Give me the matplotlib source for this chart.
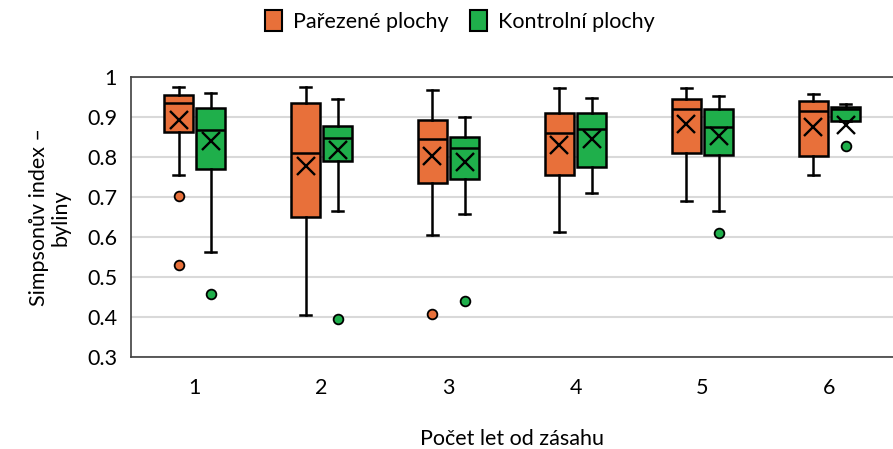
import numpy as np
import matplotlib.pyplot as plt

plt.rcParams['font.family'] = ['Lato', 'DejaVu Sans']

# roky od zasahu
years = ['1', '2', '3', '4', '5', '6']

# parezene plochy (orange)
par_whislo = [0.756, 0.407, 0.605, 0.614, 0.692, 0.755]
par_q1     = [0.864, 0.650, 0.737, 0.757, 0.811, 0.804]
par_med    = [0.937, 0.810, 0.846, 0.862, 0.920, 0.916]
par_q3     = [0.956, 0.937, 0.894, 0.911, 0.945, 0.940]
par_whishi = [0.976, 0.976, 0.969, 0.973, 0.974, 0.958]
par_mean   = [0.893, 0.778, 0.803, 0.830, 0.883, 0.876]
par_fliers = [[0.703, 0.532], [], [0.408], [], [], []]

# kontrolni plochy (green)
kon_whislo = [0.563, 0.667, 0.659, 0.710, 0.666, 0.890]
kon_q1     = [0.771, 0.792, 0.746, 0.776, 0.807, 0.890]
kon_med    = [0.868, 0.849, 0.823, 0.871, 0.875, 0.920]
kon_q3     = [0.924, 0.879, 0.851, 0.911, 0.920, 0.926]
kon_whishi = [0.962, 0.947, 0.901, 0.949, 0.953, 0.934]
kon_mean   = [0.841, 0.818, 0.789, 0.845, 0.853, 0.882]
kon_fliers = [[0.459], [0.395], [0.440], [], [0.612], [0.828]]

c_par = '#E8703A'
c_kon = '#1FAF4B'


def make_stats(lo, q1, med, q3, hi, mean, fl):
    out = []
    for i in range(len(lo)):
        out.append(dict(whislo=lo[i], q1=q1[i], med=med[i], q3=q3[i],
                        whishi=hi[i], mean=mean[i], fliers=fl[i]))
    return out


fig = plt.figure(figsize=(8.93, 4.49), dpi=100)
ax = fig.add_axes([0.1467, 0.2042, 0.8533, 0.6236])

x = np.arange(1, len(years) + 1)
off = 0.126
w = 0.236
lw = 1.8

for stats, pos, col in [(make_stats(par_whislo, par_q1, par_med, par_q3, par_whishi, par_mean, par_fliers), x - off, c_par),
                        (make_stats(kon_whislo, kon_q1, kon_med, kon_q3, kon_whishi, kon_mean, kon_fliers), x + off, c_kon)]:
    ax.bxp(stats, positions=pos, widths=w, patch_artist=True, showmeans=True,
           boxprops=dict(facecolor=col, edgecolor='black', linewidth=lw),
           medianprops=dict(color='black', linewidth=lw),
           whiskerprops=dict(color='black', linewidth=lw),
           capprops=dict(color='black', linewidth=lw),
           capwidths=0.09,
           meanprops=dict(marker='x', markeredgecolor='black', markersize=13, markeredgewidth=1.7),
           flierprops=dict(marker='o', markerfacecolor=col, markeredgecolor='black',
                           markersize=7, markeredgewidth=1.3),
           zorder=3)

ax.set_xlim(0.5, 6.5)
ax.set_ylim(0.3, 1.0)
ax.set_yticks(np.arange(0.3, 1.01, 0.1))
ax.set_yticklabels(['0.3', '0.4', '0.5', '0.6', '0.7', '0.8', '0.9', '1'])
ax.set_xticks(x)
ax.set_xticklabels(years)
ax.tick_params(length=0, labelsize=15.5, pad=10)
ax.tick_params(axis='x', pad=15)
ax.yaxis.grid(True, color='#D9D9D9', linewidth=1.5, zorder=0)
ax.set_axisbelow(True)
for s in ['left', 'top', 'bottom']:
    ax.spines[s].set_color('#404040')
    ax.spines[s].set_linewidth(1.2)
ax.spines['right'].set_visible(False)

ax.set_xlabel('Počet let od zásahu', fontsize=15.5, labelpad=22)
ax.set_ylabel('Simpsonův index –\nbyliny', fontsize=15.5, labelpad=12, linespacing=1.1)

from matplotlib.patches import Patch
handles = [Patch(facecolor=c_par, edgecolor='black', linewidth=1.5, label='Pařezené plochy'),
           Patch(facecolor=c_kon, edgecolor='black', linewidth=1.5, label='Kontrolní plochy')]
fig.legend(handles=handles, loc='center', bbox_to_anchor=(0.515, 0.953), ncol=2, frameon=False,
           fontsize=15.5, handlelength=0.8, handleheight=1.1, handletextpad=0.5, columnspacing=1.0)

fig.savefig('out.png', dpi=100)
